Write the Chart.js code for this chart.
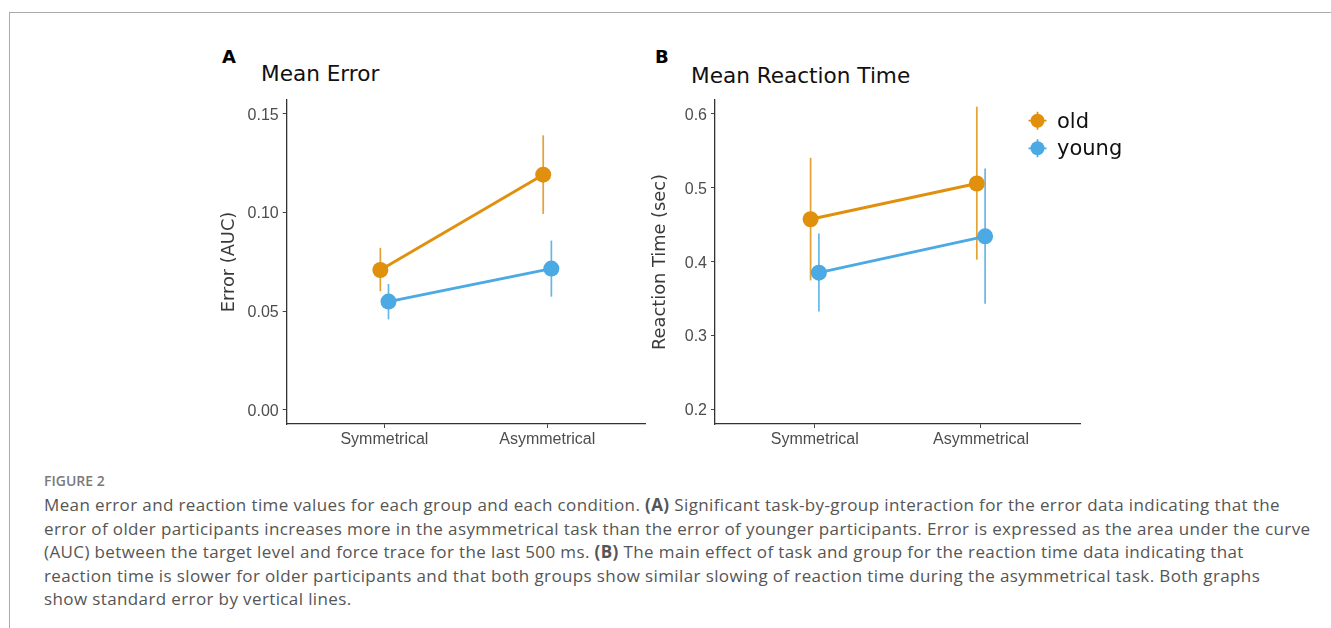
<!DOCTYPE html>
<html>
<head>
<meta charset="utf-8">
<script src="https://cdn.jsdelivr.net/npm/chart.js@4"></script>
<style>
  body { margin: 0; background: #fff; width: 1331px; height: 628px; overflow: hidden; position: relative; }
  .frame { position: absolute; left: 9px; top: 12px; width: 1340px; height: 640px; border-top: 1px solid #aaa; border-left: 1px solid #aaa; }
  .panel-letter { position: absolute; font-family: "DejaVu Sans", sans-serif; font-weight: bold; font-size: 18px; color: #000; line-height: 20px; }
  .panel-title { position: absolute; font-family: "DejaVu Sans", sans-serif; font-size: 21.6px; color: #111; line-height: 24px; white-space: nowrap; }
  canvas { position: absolute; }
  .fig-label { position: absolute; left: 44px; top: 471px; font-family: "Open Sans", sans-serif; font-size: 14px; font-weight: 600; line-height: 19px; color: #7a7a7a; }
  .caption { position: absolute; left: 44px; top: 493px; font-family: "Open Sans", sans-serif; font-size: 17px; letter-spacing: 0.38px; line-height: 23.5px; color: #555; white-space: nowrap; }
</style>
</head>
<body>
<div class="frame"></div>

<div class="panel-letter" style="left:222px; top:47px;">A</div>
<div class="panel-title" style="left:261px; top:62px;">Mean Error</div>
<div class="panel-letter" style="left:655px; top:47px;">B</div>
<div class="panel-title" style="left:691px; top:64px;">Mean Reaction Time</div>

<canvas id="errorChart" width="460" height="420" style="left:200px; top:40px;"></canvas>
<canvas id="rtChart" width="520" height="420" style="left:640px; top:40px;"></canvas>

<div class="fig-label">FIGURE 2</div>
<div class="caption">
Mean error and reaction time values for each group and each condition. <b>(A)</b> Significant task-by-group interaction for the error data indicating that the<br>
error of older participants increases more in the asymmetrical task than the error of younger participants. Error is expressed as the area under the curve<br>
(AUC) between the target level and force trace for the last 500 ms. <b>(B)</b> The main effect of task and group for the reaction time data indicating that<br>
reaction time is slower for older participants and that both groups show similar slowing of reaction time during the asymmetrical task. Both graphs<br>
show standard error by vertical lines.
</div>

<script>
// data
const conditions = ['Symmetrical', 'Asymmetrical'];
const groups = ['old', 'young'];
const groupColors = ['#E1900D', '#4BA9E4'];

// panel A - error (AUC)
const errorOld = [0.0709, 0.1192];
const errorOldLow = [0.0601, 0.0993];
const errorOldHigh = [0.0821, 0.1391];
const errorYoung = [0.0549, 0.0716];
const errorYoungLow = [0.0459, 0.0574];
const errorYoungHigh = [0.0638, 0.0858];
const errorTicks = [0, 0.05, 0.10, 0.15];

// panel B - reaction time (sec)
const rtOld = [0.4574, 0.5058];
const rtOldLow = [0.3746, 0.4027];
const rtOldHigh = [0.5406, 0.6098];
const rtYoung = [0.3851, 0.4343];
const rtYoungLow = [0.3326, 0.3430];
const rtYoungHigh = [0.4380, 0.5262];
const rtTicks = [0.2, 0.3, 0.4, 0.5, 0.6];

const DODGE = 0.025; // position_dodge offset

function toPoints(values, lows, highs, offset) {
    return values.map((v, i) => ({ x: i + 1 + offset, y: v, lo: lows[i], hi: highs[i] }));
}

// draws vertical standard error lines
const errorBars = {
    id: 'errorBars',
    beforeDatasetsDraw(chart) {
        const ctx = chart.ctx;
        const xs = chart.scales.x, ys = chart.scales.y;
        chart.data.datasets.forEach(ds => {
            ctx.save();
            ctx.strokeStyle = ds.borderColor;
            ctx.globalAlpha = 0.85;
            ctx.lineWidth = 1.7;
            ds.data.forEach(p => {
                const x = xs.getPixelForValue(p.x);
                ctx.beginPath();
                ctx.moveTo(x, ys.getPixelForValue(p.lo));
                ctx.lineTo(x, ys.getPixelForValue(p.hi));
                ctx.stroke();
            });
            ctx.restore();
        });
    }
};

// ggplot style legend at the right of panel B
const pointLegend = {
    id: 'pointLegend',
    afterDraw(chart, args, opts) {
        if (!opts.show) return;
        const ctx = chart.ctx;
        ctx.save();
        groups.forEach((g, i) => {
            const cx = 397.5, cy = 80.7 + i * 27.6;
            ctx.strokeStyle = groupColors[i];
            ctx.fillStyle = groupColors[i];
            ctx.lineWidth = 1.7;
            ctx.beginPath();
            ctx.moveTo(cx - 9, cy); ctx.lineTo(cx + 9, cy);
            ctx.moveTo(cx, cy - 9); ctx.lineTo(cx, cy + 9);
            ctx.stroke();
            ctx.beginPath();
            ctx.arc(cx, cy, 7, 0, Math.PI * 2);
            ctx.fill();
            ctx.fillStyle = '#111';
            ctx.font = '21px "DejaVu Sans"';
            ctx.textBaseline = 'alphabetic';
            ctx.fillText(g, 417, cy + 6.8);
        });
        ctx.restore();
    }
};

function makeChart(canvasId, series, ticks, decimals, yMin, yMax, yTitle, pad, yWidth, showLegend) {
    const ctx = document.getElementById(canvasId);
    return new Chart(ctx, {
        type: 'line',
        data: {
            datasets: series.map((s, i) => ({
                label: groups[i],
                data: s,
                borderColor: groupColors[i],
                backgroundColor: groupColors[i],
                borderWidth: 2.9,
                pointRadius: 8,
                pointBorderWidth: 0,
                pointBackgroundColor: groupColors[i],
                tension: 0
            }))
        },
        options: {
            responsive: false,
            animation: false,
            events: [],
            layout: { padding: pad },
            plugins: {
                legend: { display: false },
                tooltip: { enabled: false },
                pointLegend: { show: showLegend }
            },
            scales: {
                x: {
                    type: 'linear',
                    min: 0.4,
                    max: 2.6,
                    afterBuildTicks: scale => { scale.ticks = conditions.map((c, i) => ({ value: i + 1 })); },
                    afterFit: scale => { scale.height = 36; },
                    ticks: {
                        callback: v => conditions[v - 1],
                        color: '#4d4d4d',
                        font: { family: 'Liberation Sans', size: 16 },
                        padding: 1.5,
                        maxRotation: 0
                    },
                    grid: { drawOnChartArea: false, tickLength: 4, color: '#444', lineWidth: 1 },
                    border: { display: true, color: '#333', width: 1.3 }
                },
                y: {
                    min: yMin,
                    max: yMax,
                    afterBuildTicks: scale => { scale.ticks = ticks.map(v => ({ value: v })); },
                    afterFit: scale => { scale.width = yWidth; },
                    ticks: {
                        callback: v => v.toFixed(decimals),
                        color: '#4d4d4d',
                        font: { family: 'Liberation Sans', size: 16 },
                        padding: 4,
                        labelOffset: 1.5
                    },
                    title: {
                        display: true,
                        text: yTitle,
                        color: '#3a3a3a',
                        font: { family: 'DejaVu Sans', size: 17.8 },
                        padding: { top: 3, bottom: 4 }
                    },
                    grid: { drawOnChartArea: false, tickLength: 4, color: '#444', lineWidth: 1 },
                    border: { display: true, color: '#333', width: 1.3 }
                }
            }
        },
        plugins: [errorBars, pointLegend]
    });
}

makeChart('errorChart',
    [toPoints(errorOld, errorOldLow, errorOldHigh, -DODGE),
     toPoints(errorYoung, errorYoungLow, errorYoungHigh, DODGE)],
    errorTicks, 2, -0.0071, 0.157, 'Error (AUC)',
    { left: 16, top: 60, right: 15, bottom: 0 }, 70.7, false);

makeChart('rtChart',
    [toPoints(rtOld, rtOldLow, rtOldHigh, -DODGE),
     toPoints(rtYoung, rtYoungLow, rtYoungHigh, DODGE)],
    rtTicks, 1, 0.1802, 0.6189, 'Reaction Time (sec)',
    { left: 7, top: 60, right: 79.3, bottom: 0 }, 68, true);
</script>
</body>
</html>
